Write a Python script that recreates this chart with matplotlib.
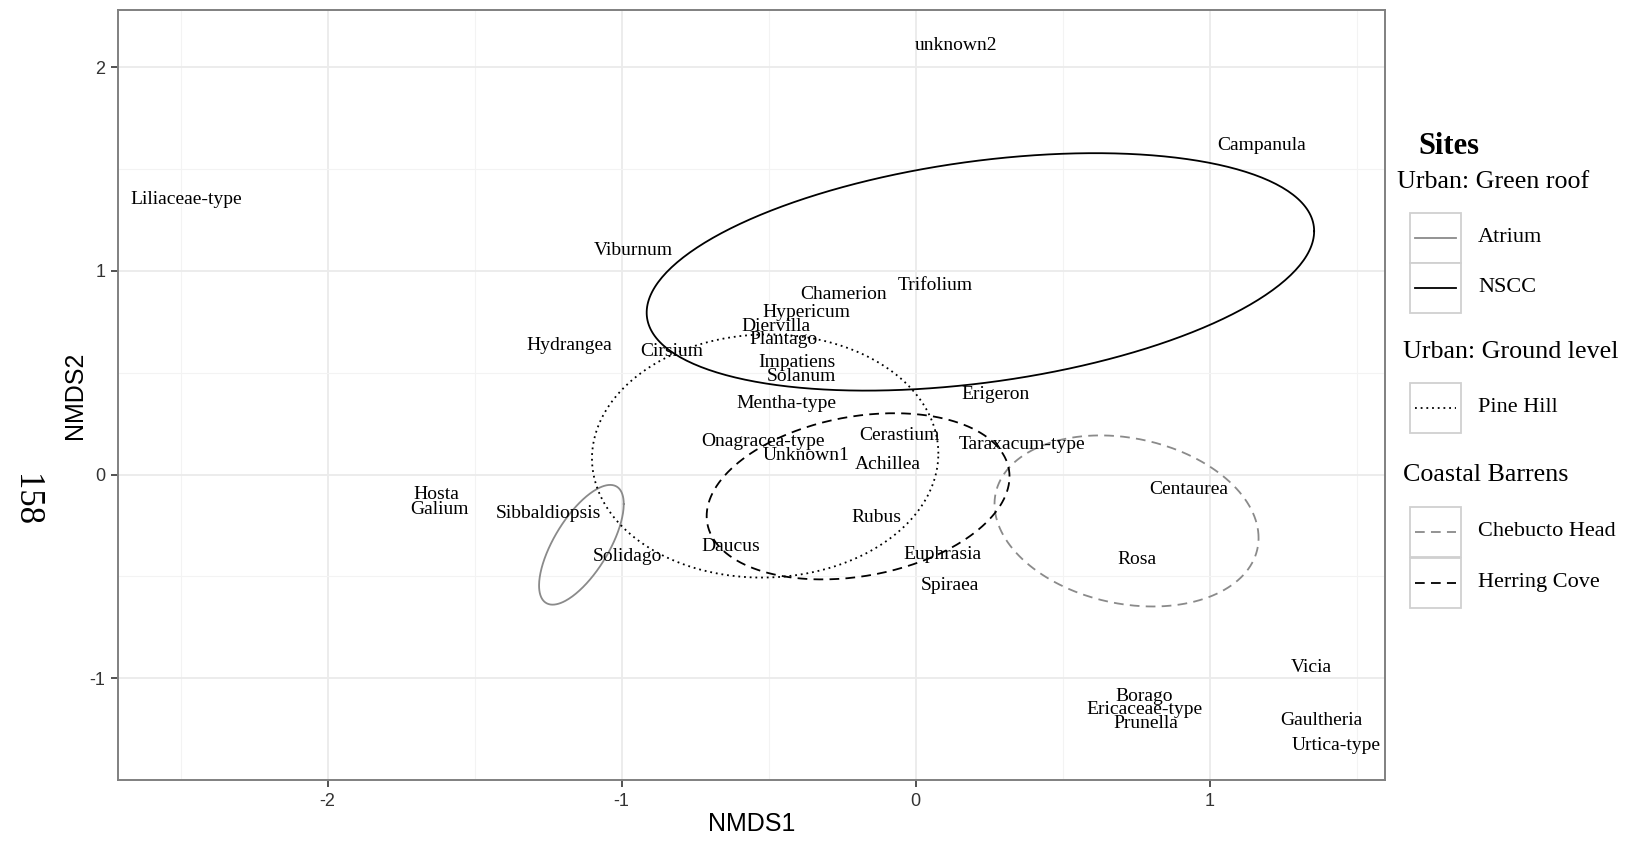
import numpy as np
import matplotlib
matplotlib.use("Agg")
import matplotlib.pyplot as plt
from matplotlib.lines import Line2D
from matplotlib.patches import Rectangle

# --- species scores (NMDS1, NMDS2) ---
species = ["unknown2", "Campanula", "Liliaceae-type", "Viburnum", "Trifolium", "Chamerion",
           "Hypericum", "Diervilla", "Plantago", "Hydrangea", "Cirsium", "Impatiens",
           "Solanum", "Erigeron", "Mentha-type", "Cerastium", "Onagracea-type",
           "Taraxacum-type", "Unknown1", "Achillea", "Hosta", "Centaurea", "Galium",
           "Sibbaldiopsis", "Rubus", "Daucus", "Solidago", "Euphrasia", "Rosa", "Spiraea",
           "Vicia", "Borago", "Ericaceae-type", "Gaultheria", "Prunella", "Urtica-type"]
nmds1 = [0.138, 1.177, -2.482, -0.961, 0.067, -0.245, -0.372, -0.475, -0.450, -1.177,
         -0.830, -0.404, -0.387, 0.273, -0.440, -0.057, -0.521, 0.362, -0.372, -0.096,
         -1.631, 0.929, -1.621, -1.248, -0.135, -0.628, -0.982, 0.092, 0.752, 0.117,
         1.344, 0.777, 0.777, 1.379, 0.784, 1.429]
nmds2 = [2.105, 1.615, 1.349, 1.099, 0.930, 0.884, 0.797, 0.726, 0.664, 0.634,
         0.603, 0.552, 0.480, 0.393, 0.347, 0.194, 0.164, 0.148, 0.092, 0.051,
         -0.097, -0.072, -0.174, -0.189, -0.210, -0.353, -0.404, -0.393, -0.419, -0.547,
         -0.950, -1.088, -1.155, -1.206, -1.221, -1.329]

# --- site ellipses: centre, half-extent in x and y, correlation ---
sites = ["Atrium", "NSCC", "Pine Hill", "Chebucto Head", "Herring Cove"]
ell_cx = [-1.137, 0.220, -0.512, 0.717, -0.196]
ell_cy = [-0.345, 0.995, 0.091, -0.228, -0.107]
ell_sx = [0.144, 1.135, 0.589, 0.449, 0.515]
ell_sy = [0.294, 0.583, 0.597, 0.420, 0.408]
ell_rho = [0.68, 0.343, 0.02, -0.198, 0.238]

GRAY = "#8a8a8a"
styles = {
    "Atrium": dict(color=GRAY, linestyle="-"),
    "NSCC": dict(color="black", linestyle="-"),
    "Pine Hill": dict(color="black", linestyle=(0, (1.3, 2.8))),
    "Chebucto Head": dict(color=GRAY, linestyle=(0, (7, 4.5))),
    "Herring Cove": dict(color="black", linestyle=(0, (7, 4.5))),
}

plt.rcParams["lines.scale_dashes"] = False
plt.rcParams["axes.unicode_minus"] = False
SERIF = ["Liberation Serif", "DejaVu Serif"]
SANS = ["Liberation Sans", "DejaVu Sans"]

W, H = 1635, 843
fig = plt.figure(figsize=(W / 100, H / 100), dpi=100)


def fx(px):
    return px / W


def fy(py):
    return 1 - py / H


ax = fig.add_axes([fx(118), fy(780), fx(1385) - fx(118), fy(10) - fy(780)])
ax.set_xlim(-2.713, 1.596)
ax.set_ylim(-1.49, 2.281)

# grid like theme_bw
ax.set_xticks([-2, -1, 0, 1])
ax.set_yticks([-1, 0, 1, 2])
ax.set_xticks([-2.5, -1.5, -0.5, 0.5, 1.5], minor=True)
ax.set_yticks([-1.5, -0.5, 0.5, 1.5], minor=True)
ax.grid(True, which="major", color="#ebebeb", linewidth=1.3)
ax.grid(True, which="minor", color="#f3f3f3", linewidth=0.8)
ax.set_axisbelow(True)
ax.tick_params(which="minor", length=0)
ax.tick_params(which="major", length=5, width=1.2, color="#333333",
               labelsize=13, labelcolor="#333333", pad=4)
for lab in ax.get_xticklabels() + ax.get_yticklabels():
    lab.set_family(SANS)
for s in ax.spines.values():
    s.set_color("#808080")
    s.set_linewidth(1.4)

# ellipses
t = np.linspace(0, 2 * np.pi, 300)
for name, cx, cy, sx, sy, r in zip(sites, ell_cx, ell_cy, ell_sx, ell_sy, ell_rho):
    cov = np.array([[sx ** 2, r * sx * sy], [r * sx * sy, sy ** 2]])
    L = np.linalg.cholesky(cov)
    pts = L @ np.vstack([np.cos(t), np.sin(t)])
    ax.plot(cx + pts[0], cy + pts[1], linewidth=1.3, **styles[name])

for name, x, y in zip(species, nmds1, nmds2):
    ax.text(x, y, name, ha="center", va="center", fontsize=14, family=SERIF)

ax.set_xlabel("NMDS1", fontsize=18, family=SANS, labelpad=2)
ax.set_ylabel("NMDS2", fontsize=18, family=SANS, labelpad=2)
fig.text(fx(25), fy(500), "158", rotation=270, ha="center", va="center",
         fontsize=25, family=SERIF)

# legend built by hand
fig.text(fx(1418), fy(147), "Sites", fontsize=22, fontweight="bold", family=SERIF,
         ha="left", va="center")
groups = [("Urban: Green roof", 1397, 182, [("Atrium", 213), ("NSCC", 263)]),
          ("Urban: Ground level", 1403, 352, [("Pine Hill", 383)]),
          ("Coastal Barrens", 1403, 475, [("Chebucto Head", 507), ("Herring Cove", 558)])]
for header, hx, hy, keys in groups:
    fig.text(fx(hx), fy(hy), header, fontsize=18.7, family=SERIF, ha="left", va="center")
    for name, top in keys:
        fig.add_artist(Rectangle((fx(1410), fy(top + 50)), fx(1461) - fx(1410),
                                 fy(top) - fy(top + 50), transform=fig.transFigure,
                                 facecolor="white", edgecolor="#d0d0d0", linewidth=1.3))
        ymid = fy(top + 25)
        fig.add_artist(Line2D([fx(1415), fx(1456)], [ymid, ymid], transform=fig.transFigure,
                              linewidth=1.3, **styles[name]))
        fig.text(fx(1478), ymid, name, fontsize=16, family=SERIF, ha="left", va="center")

fig.savefig("out.png", dpi=100)
